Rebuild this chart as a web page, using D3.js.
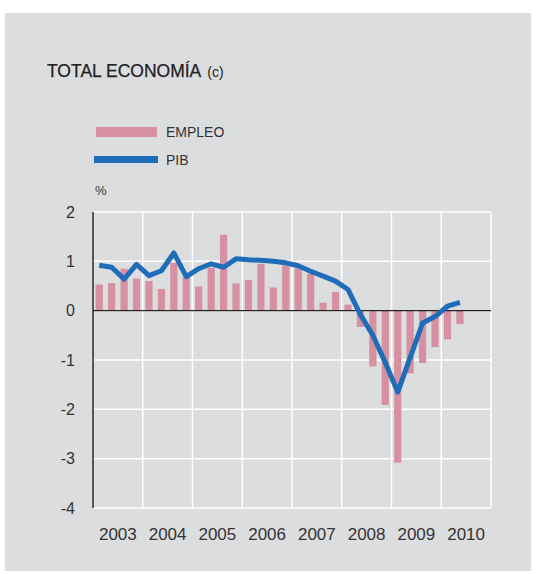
<script src="https://d3js.org/d3.v7.min.js"></script>
<style>
  body { margin: 0; background: #fff; }
  text { font-family: "Liberation Sans", Arial, sans-serif; fill: #333; }
</style>
<svg width="537" height="574"></svg>
<script>
    // quarterly data, 2003 Q1 .. 2010 Q2
    var years = [2003, 2004, 2005, 2006, 2007, 2008, 2009, 2010];
    var quarters = [];
    years.forEach(function (y) {
        [1, 2, 3, 4].forEach(function (q) {
            if (y < 2010 || q <= 2) quarters.push(y + "T" + q);
        });
    });
    var empleo = [0.53, 0.56, 0.85, 0.65, 0.6, 0.44, 0.97, 0.68,
        0.49, 0.87, 1.54, 0.55, 0.62, 0.95, 0.47, 0.92,
        0.86, 0.75, 0.16, 0.38, 0.12, -0.33, -1.13, -1.91,
        -3.08, -1.27, -1.06, -0.74, -0.58, -0.27];
    var pib = [0.92, 0.88, 0.64, 0.94, 0.71, 0.81, 1.17, 0.69,
        0.85, 0.95, 0.88, 1.05, 1.03, 1.02, 1.0, 0.97,
        0.91, 0.8, 0.7, 0.6, 0.43, -0.08, -0.5, -1.05,
        -1.65, -0.95, -0.25, -0.12, 0.09, 0.17];
    var yTicks = [2, 1, 0, -1, -2, -3, -4];

    var svg = d3.select("svg");
    var barColor = "#d690a1", lineColor = "#1f6db8", bg = "#dcdddf";

    svg.append("rect").attr("x", 5).attr("y", 13).attr("width", 526).attr("height", 558)
        .attr("fill", bg);

    svg.append("text").attr("x", 47).attr("y", 77).attr("font-size", "17.5px")
        .style("fill", "#222").attr("stroke", "#222").attr("stroke-width", 0.25)
        .text("TOTAL ECONOMÍA")
        .append("tspan").attr("font-size", "14px").attr("dx", 6)
        .attr("stroke-width", 0).text("(c)");

    // legend
    svg.append("rect").attr("x", 96).attr("y", 127).attr("width", 61).attr("height", 10)
        .attr("fill", barColor);
    svg.append("text").attr("x", 166).attr("y", 137).attr("font-size", "14px").text("EMPLEO");
    svg.append("rect").attr("x", 94).attr("y", 156).attr("width", 64).attr("height", 7)
        .attr("fill", lineColor);
    svg.append("text").attr("x", 166).attr("y", 165).attr("font-size", "14px").text("PIB");
    svg.append("text").attr("x", 95).attr("y", 195).attr("font-size", "13px").text("%");

    var x = d3.scaleLinear().domain([2003, 2011]).range([93, 491]);
    var y = d3.scaleLinear().domain([-4, 2]).range([508, 212]);
    var qw = x(2003.25) - x(2003);
    function qx(i) { return x(2003 + (i + 0.5) / 4); }

    var g = svg.append("g");

    // white grid
    g.selectAll(".hg").data(yTicks).enter().append("line")
        .attr("x1", x(2003)).attr("x2", x(2011))
        .attr("y1", function (d) { return y(d); }).attr("y2", function (d) { return y(d); })
        .attr("stroke", "#fff").attr("stroke-width", 1.5);
    g.selectAll(".vg").data(years.concat([2011])).enter().append("line")
        .attr("x1", function (d) { return x(d); }).attr("x2", function (d) { return x(d); })
        .attr("y1", y(2)).attr("y2", y(-4))
        .attr("stroke", "#fff").attr("stroke-width", 1.5);

    // bars
    g.selectAll(".bar").data(empleo).enter().append("rect")
        .attr("class", "bar")
        .attr("x", function (d, i) { return qx(i) - qw * 0.29; })
        .attr("width", qw * 0.58)
        .attr("y", function (d) { return y(Math.max(0, d)); })
        .attr("height", function (d) { return Math.abs(y(d) - y(0)); })
        .attr("fill", barColor);

    // zero line and y axis line
    g.append("line").attr("x1", x(2003)).attr("x2", x(2011)).attr("y1", y(0)).attr("y2", y(0))
        .attr("stroke", "#222").attr("stroke-width", 1.2);
    g.append("line").attr("x1", x(2003)).attr("x2", x(2003)).attr("y1", y(2)).attr("y2", y(-4))
        .attr("stroke", "#222").attr("stroke-width", 1.5);

    // PIB line
    var line = d3.line()
        .x(function (d, i) { return qx(i); })
        .y(function (d) { return y(d); });
    g.append("path").datum(pib).attr("d", line)
        .attr("fill", "none").attr("stroke", lineColor).attr("stroke-width", 5)
        .attr("stroke-linejoin", "round");

    // y labels
    g.selectAll(".yl").data(yTicks).enter().append("text")
        .attr("x", 75).attr("y", function (d) { return y(d) + 5.5; })
        .attr("text-anchor", "end").attr("font-size", "16px")
        .text(function (d) { return d; });

    // x labels
    g.selectAll(".xl").data(years).enter().append("text")
        .attr("x", function (d) { return x(d + 0.5); }).attr("y", 540)
        .attr("text-anchor", "middle").attr("font-size", "17px")
        .text(function (d) { return d; });
</script>
